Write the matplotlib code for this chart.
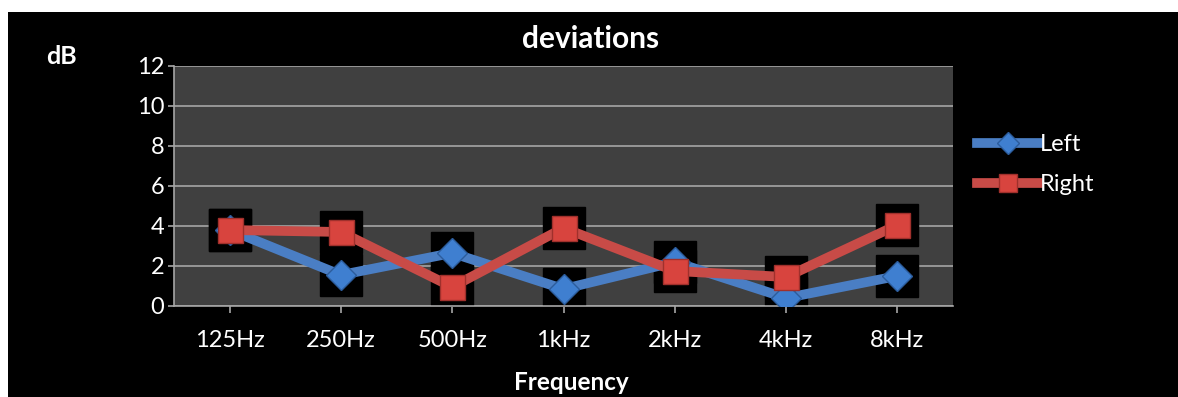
import matplotlib
matplotlib.use("Agg")
import matplotlib.pyplot as plt
from matplotlib.patches import Rectangle

categories = ["125Hz", "250Hz", "500Hz", "1kHz", "2kHz", "4kHz", "8kHz"]
left_vals = [3.8, 1.55, 2.65, 0.85, 2.2, 0.4, 1.5]
right_vals = [3.8, 3.7, 0.95, 3.9, 1.75, 1.45, 4.05]
yticks = [0, 2, 4, 6, 8, 10, 12]

plt.rcParams['font.family'] = ['Lato', 'DejaVu Sans']

W, H = 1178, 397
fig = plt.figure(figsize=(W / 100, H / 100), dpi=100)
fig.patch.set_facecolor('white')
fig.add_artist(Rectangle((8 / W, 0), 1 - 8 / W, (H - 12) / H, transform=fig.transFigure,
                         facecolor='black', edgecolor='none', zorder=-10))

ax = fig.add_axes([174 / W, (H - 306) / H, (953 - 174) / W, (306 - 66) / H])
ax.set_facecolor('#404040')
x = list(range(len(categories)))

blue = '#4a7ec4'
red = '#c84b47'

# black boxes behind markers
ax.plot(x, left_vals, linestyle='none', marker='s', markersize=30.5, color='black', zorder=2)
ax.plot(x, right_vals, linestyle='none', marker='s', markersize=30.5, color='black', zorder=2)

ax.plot(x, left_vals, color=blue, linewidth=7, marker='D', markersize=15,
        markerfacecolor='#3f7fd0', markeredgecolor='#2c5c9c', markeredgewidth=1, zorder=3,
        label='Left')
ax.plot(x, right_vals, color=red, linewidth=7, marker='s', markersize=18,
        markerfacecolor='#d8443e', markeredgecolor='#a0302c', markeredgewidth=1, zorder=4,
        label='Right')

ax.set_xlim(-0.5, 6.5)
ax.set_ylim(0, 12)
ax.set_yticks(yticks)
ax.set_xticks(x)
ax.set_xticks([6.5], minor=True)
ax.set_xticklabels(categories)
ax.grid(axis='y', color='#a6a6a6', linewidth=1.2, zorder=1)
ax.set_axisbelow(True)
for s in ['top', 'right']:
    ax.spines[s].set_visible(False)
for s in ['left', 'bottom']:
    ax.spines[s].set_color('#a6a6a6')
    ax.spines[s].set_linewidth(1.2)
ax.tick_params(axis='both', colors='#a6a6a6', labelcolor='white', labelsize=17, width=1.2)
ax.tick_params(axis='y', length=4, pad=3)
ax.tick_params(axis='x', which='both', length=5, pad=12)

fig.text(591 / W, 1 - 39 / H, 'deviations', color='white', fontsize=21.5, fontweight='bold',
         ha='center', va='center')
fig.text(61 / W, 1 - 56 / H, 'dB', color='white', fontsize=18, fontweight='bold',
         ha='center', va='center')
fig.text(571 / W, 1 - 383 / H, 'Frequency', color='white', fontsize=17.5, fontweight='bold',
         ha='center', va='center')

leg = ax.legend(loc='upper left', bbox_to_anchor=(977 / W, 1 - 134 / H),
                bbox_transform=fig.transFigure, frameon=False, fontsize=17,
                labelcolor='white', handlelength=2.6, handletextpad=0.05,
                labelspacing=0.8, borderaxespad=0, borderpad=0, markerscale=0.75)

fig.savefig('out.png', dpi=100, facecolor=fig.get_facecolor())
